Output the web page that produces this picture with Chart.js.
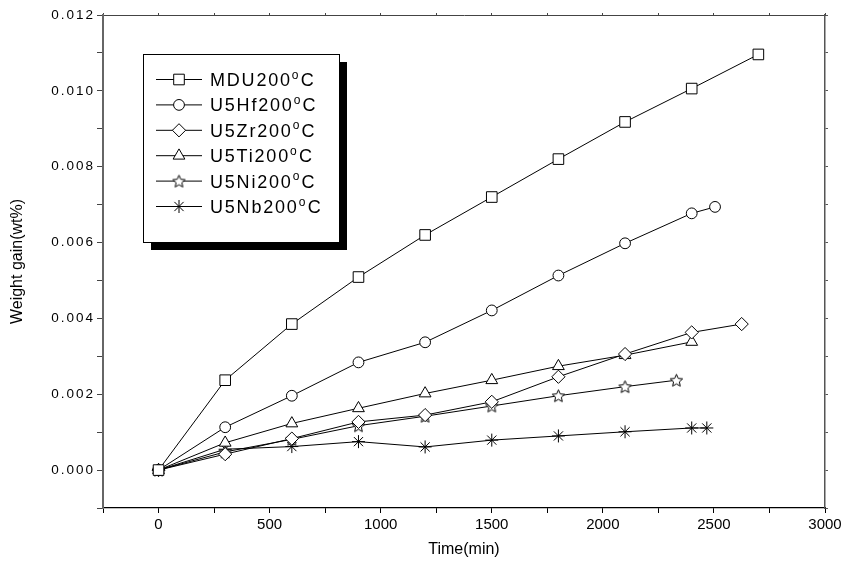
<!DOCTYPE html>
<html>
<head>
<meta charset="utf-8">
<title>Weight gain vs time</title>
<script src="https://cdn.jsdelivr.net/npm/chart.js@4.4.1/dist/chart.umd.min.js"></script>
<style>
  html, body { margin: 0; padding: 0; background: #fff; }
  #chart { display: block; }
</style>
</head>
<body>
<canvas id="chart" width="846" height="567"></canvas>
<script>
/* ── Data ── */
const seriesNames = ['MDU200', 'U5Hf200', 'U5Zr200', 'U5Ti200', 'U5Ni200', 'U5Nb200'];

const mduTime = [0, 300, 600, 900, 1200, 1500, 1800, 2100, 2400, 2700];
const mduGain = [0, 0.00237, 0.00385, 0.00509, 0.0062, 0.0072, 0.0082, 0.00918, 0.01006, 0.01096];

const hfTime = [0, 300, 600, 900, 1200, 1500, 1800, 2100, 2400, 2505];
const hfGain = [0, 0.00113, 0.00196, 0.00284, 0.00337, 0.00421, 0.00513, 0.00598, 0.00677, 0.00694];

const zrTime = [0, 300, 600, 900, 1200, 1500, 1800, 2100, 2400, 2625];
const zrGain = [0, 0.00042, 0.00083, 0.00127, 0.00145, 0.0018, 0.00246, 0.00306, 0.00363, 0.00385];

const tiTime = [0, 300, 600, 900, 1200, 1500, 1800, 2100, 2400];
const tiGain = [0, 0.00072, 0.00123, 0.00163, 0.00202, 0.00237, 0.00274, 0.00303, 0.00338];

const niTime = [0, 300, 600, 900, 1200, 1500, 1800, 2100, 2331];
const niGain = [0, 0.00048, 0.00081, 0.00117, 0.00142, 0.00169, 0.00196, 0.0022, 0.00237];

const nbTime = [0, 300, 600, 900, 1200, 1500, 1800, 2100, 2400, 2468];
const nbGain = [0, 0.00055, 0.00062, 0.00075, 0.00061, 0.00079, 0.0009, 0.00101, 0.00111, 0.00111];

const xTickLabels = ['0', '500', '1000', '1500', '2000', '2500', '3000'];
const yTickLabels = ['0.000', '0.002', '0.004', '0.006', '0.008', '0.010', '0.012'];

const FONT = '"Liberation Sans", Arial, sans-serif';

/* ── Open star marker (no built-in one in Chart.js) ── */
function makeStar(r) {
  const size = Math.ceil(r * 2 + 4);
  const c = document.createElement('canvas');
  c.width = c.height = size;
  const g = c.getContext('2d');
  g.translate(size / 2, size / 2 + 0.6);
  g.beginPath();
  for (let i = 0; i < 10; i++) {
    const rad = i % 2 ? r * 0.47 : r;
    const a = -Math.PI / 2 + i * Math.PI / 5;
    g.lineTo(Math.cos(a) * rad, Math.sin(a) * rad);
  }
  g.closePath();
  g.fillStyle = '#fff';
  g.fill();
  g.lineWidth = 1;
  g.strokeStyle = '#000';
  g.stroke();
  return c;
}

const pts = (xs, ys) => xs.map((x, i) => ({ x, y: ys[i] }));

function series(i, xs, ys, style, radius) {
  return {
    label: seriesNames[i] + '°C',
    data: pts(xs, ys),
    borderColor: '#000',
    borderWidth: 1,
    pointStyle: style,
    pointRadius: radius,
    pointBackgroundColor: '#fff',
    pointBorderColor: '#000',
    pointBorderWidth: 1,
    tension: 0,
    fill: false
  };
}

/* ── Boxed legend with drop shadow ── */
const boxLegend = {
  id: 'boxLegend',
  afterDraw(chart) {
    const ctx = chart.ctx;
    const x = 143, y = 54, w = 196, h = 188, sh = 8;
    ctx.save();
    ctx.fillStyle = '#000';
    ctx.fillRect(x + sh, y + sh, w, h);
    ctx.fillStyle = '#fff';
    ctx.fillRect(x, y, w, h);
    ctx.strokeStyle = '#000';
    ctx.lineWidth = 1;
    ctx.strokeRect(x + 0.5, y + 0.5, w, h);

    chart.data.datasets.forEach((ds, i) => {
      const cy = 79.5 + i * 25.4;
      ctx.strokeStyle = '#000';
      ctx.lineWidth = 1;
      ctx.beginPath();
      ctx.moveTo(156, cy);
      ctx.lineTo(202, cy);
      ctx.stroke();
      ctx.fillStyle = '#fff';
      Chart.helpers.drawPoint(ctx, { pointStyle: ds.pointStyle, radius: ds.pointRadius, rotation: 0, borderWidth: 1 }, 179, cy);

      // name, superscript o, C
      ctx.fillStyle = '#000';
      ctx.textBaseline = 'alphabetic';
      ctx.textAlign = 'left';
      ctx.letterSpacing = '1.8px';
      ctx.font = '18px ' + FONT;
      let tx = 210;
      ctx.fillText(seriesNames[i], tx, cy + 6.5);
      tx += ctx.measureText(seriesNames[i]).width;
      ctx.font = '12px ' + FONT;
      ctx.fillText('o', tx, cy - 1);
      tx += ctx.measureText('o').width + 0.5;
      ctx.font = '18px ' + FONT;
      ctx.fillText('C', tx, cy + 6.5);
    });
    ctx.restore();
  }
};

/* ── Wider letter spacing on the y tick labels ── */
const ySpacing = {
  id: 'ySpacing',
  afterLayout(chart) {
    const s = chart.scales.y;
    if (!s || s._spaced) return;
    const draw = s.drawLabels.bind(s);
    s.drawLabels = area => {
      chart.ctx.save();
      chart.ctx.letterSpacing = '2px';
      draw(area);
      chart.ctx.restore();
    };
    s._spaced = true;
  }
};

/* ── Chart ── */
function initChart() {
  const ctx = document.getElementById('chart');
  const starImg = makeStar(6.5);

  new Chart(ctx, {
    type: 'line',
    data: {
      datasets: [
        series(0, mduTime, mduGain, 'rect', 7.5),
        series(1, hfTime, hfGain, 'circle', 5.4),
        series(2, zrTime, zrGain, 'rectRot', 6.6),
        series(3, tiTime, tiGain, 'triangle', 6.8),
        series(4, niTime, niGain, starImg, 6.5),
        series(5, nbTime, nbGain, 'star', 6.5)
      ]
    },
    options: {
      responsive: false,
      animation: false,
      devicePixelRatio: 1,
      layout: { padding: 0 },
      plugins: {
        legend: { display: false },
        tooltip: { enabled: false }
      },
      scales: {
        x: {
          type: 'linear',
          position: 'bottom',
          min: -250,
          max: 3000,
          afterFit: s => { s.height = 59; },
          border: { color: '#000', width: 1.2 },
          grid: { drawOnChartArea: false, tickLength: 5, tickColor: '#000' },
          ticks: {
            stepSize: 250,
            autoSkip: false,
            maxRotation: 0,
            padding: 3,
            color: '#000',
            font: { family: FONT, size: 15 },
            callback: v => { const l = String(v); return xTickLabels.includes(l) ? l : ''; }
          },
          title: { display: true, text: 'Time(min)', color: '#000', font: { family: FONT, size: 16 }, padding: { top: 0, bottom: 8 } }
        },
        x2: {
          type: 'linear',
          position: 'top',
          min: -250,
          max: 3000,
          afterFit: s => { s.height = 15; },
          border: { color: '#444', width: 1 },
          grid: { drawOnChartArea: false, tickLength: 2, tickColor: '#444' },
          ticks: { display: false, stepSize: 250, autoSkip: false }
        },
        y: {
          type: 'linear',
          position: 'left',
          min: -0.001,
          max: 0.012,
          afterFit: s => { s.width = 103; },
          border: { color: '#666', width: 2 },
          grid: { drawOnChartArea: false, tickLength: 6, tickColor: '#444' },
          ticks: {
            stepSize: 0.001,
            autoSkip: false,
            padding: 2,
            color: '#000',
            font: { family: FONT, size: 13.5 },
            callback: v => {
              const l = (Math.abs(v) < 1e-9 ? 0 : v).toFixed(3);
              return yTickLabels.includes(l) ? l : '';
            }
          },
          title: { display: true, text: 'Weight gain(wt%)', color: '#000', font: { family: FONT, size: 16 }, padding: { top: 8, bottom: 0 } }
        },
        y2: {
          type: 'linear',
          position: 'right',
          min: -0.001,
          max: 0.012,
          afterFit: s => { s.width = 21; },
          border: { color: '#555', width: 1.5 },
          grid: { drawOnChartArea: false, tickLength: 3, tickColor: '#555' },
          ticks: { display: false, stepSize: 0.001, autoSkip: false }
        }
      }
    },
    plugins: [ySpacing, boxLegend]
  });
}

document.addEventListener('DOMContentLoaded', initChart);
</script>
</body>
</html>
